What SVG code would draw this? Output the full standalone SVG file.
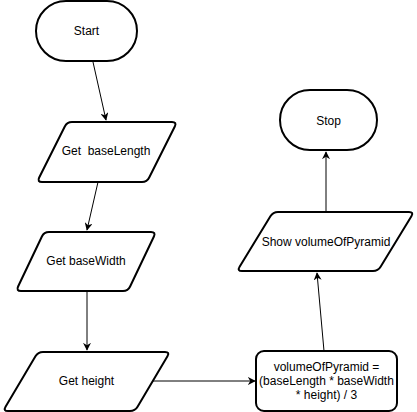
<svg xmlns="http://www.w3.org/2000/svg" width="417" height="412" viewBox="0 0 417 412">
<defs>
<style>
.shape{fill:#fff;stroke:#000;stroke-width:2;stroke-linejoin:round}
.edge{fill:none;stroke:#000;stroke-width:1}
text{font-family:"Liberation Sans",Arial,sans-serif;font-size:12px;fill:#000;text-anchor:middle}
</style>
<marker id="arr" viewBox="0 0 10 10" refX="9" refY="5" markerWidth="8" markerHeight="8" markerUnits="userSpaceOnUse" orient="auto">
<path d="M0,0 L10,5 L0,10 L3,5 Z" fill="#000"/>
</marker>
</defs>
<rect width="417" height="412" fill="#fff"/>
<g id="connectors">
<line class="edge" x1="93" y1="62" x2="106" y2="120" marker-end="url(#arr)"/>
<line class="edge" x1="98" y1="182" x2="87" y2="230" marker-end="url(#arr)"/>
<line class="edge" x1="87" y1="291" x2="87" y2="350" marker-end="url(#arr)"/>
<line class="edge" x1="153" y1="381" x2="255" y2="381" marker-end="url(#arr)"/>
<line class="edge" x1="324" y1="351" x2="317" y2="273" marker-end="url(#arr)"/>
<line class="edge" x1="326" y1="211" x2="326" y2="152" marker-end="url(#arr)"/>
</g>
<g id="start">
<rect class="shape" x="36" y="1" width="101" height="60" rx="30" ry="30"/>
<text x="86.5" y="35">Start</text>
</g>
<g id="get-baselength">
<path class="shape" d="M72,122 L172,122 Q177,122 174.8,126.5 L149.2,177.5 Q147,182 142,182 L42,182 Q37,182 39.2,177.5 L64.8,126.5 Q67,122 72,122 Z"/>
<text x="106" y="155" xml:space="preserve">Get  baseLength</text>
</g>
<g id="get-basewidth">
<path class="shape" d="M49,232 L151,232 Q156,232 153.9,236.5 L130.1,286.5 Q128,291 123,291 L21,291 Q16,291 18.1,286.5 L41.9,236.5 Q44,232 49,232 Z"/>
<text x="86" y="265">Get baseWidth</text>
</g>
<g id="get-height">
<path class="shape" d="M43,352 L165,352 Q170,352 167.45,356.3 L137.55,406.7 Q135,411 130,411 L8,411 Q3,411 5.55,406.7 L35.45,356.3 Q38,352 43,352 Z"/>
<text x="86.5" y="385">Get height</text>
</g>
<g id="compute">
<rect class="shape" x="256" y="351" width="141" height="60" rx="8" ry="8"/>
<text x="326.5" y="371">volumeOfPyramid =</text>
<text x="326.5" y="385">(baseLength * baseWidth</text>
<text x="326.5" y="399">* height) / 3</text>
</g>
<g id="show">
<path class="shape" d="M278,212 L409,212 Q414,212 411.4,216.27 L380.6,266.73 Q378,271 373,271 L242,271 Q237,271 239.6,266.73 L270.4,216.27 Q273,212 278,212 Z"/>
<text x="326" y="246">Show volumeOfPyramid</text>
</g>
<g id="stop">
<rect class="shape" x="280" y="90" width="97" height="60" rx="30" ry="30"/>
<text x="328.5" y="125">Stop</text>
</g>
</svg>
